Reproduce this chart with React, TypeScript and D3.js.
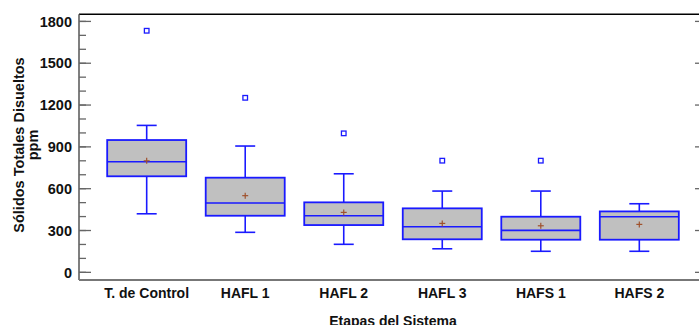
import React from "react";
import * as d3 from "d3";

const categories = ["T. de Control", "HAFL 1", "HAFL 2", "HAFL 3", "HAFS 1", "HAFS 2"];
const lowerWhisker = [420, 287, 201, 169, 151, 151];
const q1 = [689, 406, 339, 237, 234, 234];
const median = [793, 497, 406, 327, 301, 399];
const q3 = [949, 679, 502, 459, 399, 437];
const upperWhisker = [1054, 906, 707, 583, 583, 492];
const means = [800, 550, 430, 351, 334, 344];
const outliers: (number | null)[] = [1733, 1252, 997, 801, 801, null];
const yTicks = [0, 300, 600, 900, 1200, 1500, 1800];
const yMinorTicks = d3.range(0, 1801, 100);

const W = 699;
const H = 325;
const left = 79;
const right = 707;
const top = 14.3;
const bottom = 280;
const FONT = "'Liberation Sans', Arial, sans-serif";

export default function App() {
  const y = d3.scaleLinear().domain([-55, 1851]).range([bottom, top]);
  const x = d3.scalePoint<string>().domain(categories).range([left, right]).padding(0.687);
  const boxW = 79;
  const capW = 20;
  const blue = "#1a1aff";

  return (
    <svg width={W} height={H} style={{ position: "absolute", left: 0, top: 0 }}>
      <rect x={0} y={0} width={W} height={H} fill="#fff" />
      {/* frame */}
      <line x1={left} x2={right} y1={top} y2={top} stroke="#000" strokeWidth={1.5} />
      <line x1={left} x2={left} y1={top} y2={bottom} stroke="#555" strokeWidth={1.5} />
      <line x1={right} x2={right} y1={top} y2={bottom} stroke="#555" strokeWidth={1.5} />
      <line x1={left} x2={right} y1={bottom} y2={bottom} stroke="#777" strokeWidth={2} />
      {/* minor ticks */}
      {yMinorTicks.map((t) => (
        <line key={"m" + t} x1={left} x2={left + 7} y1={y(t)} y2={y(t)} stroke="#666" strokeWidth={1.3} />
      ))}
      {yTicks.map((t) => (
        <g key={"t" + t}>
          <line x1={left} x2={left + 12} y1={y(t)} y2={y(t)} stroke="#666" strokeWidth={1.3} />
          <line x1={right - 12} x2={right} y1={y(t)} y2={y(t)} stroke="#666" strokeWidth={1.3} />
          <text x={72} y={y(t)} dy="0.36em" textAnchor="end" fontFamily={FONT} fontWeight="bold" fontSize={14.5} fill="#111">
            {t}
          </text>
        </g>
      ))}
      {/* boxes */}
      {categories.map((c, i) => {
        const cx = x(c)!;
        return (
          <g key={c}>
            <line x1={cx} x2={cx} y1={y(upperWhisker[i])} y2={y(q3[i])} stroke={blue} strokeWidth={1.6} />
            <line x1={cx} x2={cx} y1={y(q1[i])} y2={y(lowerWhisker[i])} stroke={blue} strokeWidth={1.6} />
            <line x1={cx - capW / 2} x2={cx + capW / 2} y1={y(upperWhisker[i])} y2={y(upperWhisker[i])} stroke={blue} strokeWidth={1.6} />
            <line x1={cx - capW / 2} x2={cx + capW / 2} y1={y(lowerWhisker[i])} y2={y(lowerWhisker[i])} stroke={blue} strokeWidth={1.6} />
            <rect x={cx - boxW / 2} y={y(q3[i])} width={boxW} height={y(q1[i]) - y(q3[i])} fill="#c0c0c0" stroke={blue} strokeWidth={1.8} />
            <line x1={cx - boxW / 2} x2={cx + boxW / 2} y1={y(median[i])} y2={y(median[i])} stroke={blue} strokeWidth={1.6} />
            <g stroke="#a0522d" strokeWidth={1.2}>
              <line x1={cx - 3} x2={cx + 3} y1={y(means[i])} y2={y(means[i])} />
              <line x1={cx} x2={cx} y1={y(means[i]) - 3} y2={y(means[i]) + 3} />
            </g>
            {outliers[i] !== null && (
              <rect x={cx - 2.3} y={y(outliers[i] as number) - 2.3} width={4.6} height={4.6} fill="#fff" stroke={blue} strokeWidth={1.3} />
            )}
            <text x={cx} y={298} textAnchor="middle" fontFamily={FONT} fontWeight="bold" fontSize={14} fill="#111">
              {c}
            </text>
          </g>
        );
      })}
      {/* axis titles */}
      <text x={(left + right) / 2} y={326} textAnchor="middle" fontFamily={FONT} fontWeight="bold" fontSize={14} fill="#111">
        Etapas del Sistema
      </text>
      <g transform="translate(0, 145)">
        <text transform="translate(24,0) rotate(-90)" textAnchor="middle" fontFamily={FONT} fontWeight="bold" fontSize={14.5} fill="#111">
          Sólidos Totales Disueltos
        </text>
        <text transform="translate(38,0) rotate(-90)" textAnchor="middle" fontFamily={FONT} fontWeight="bold" fontSize={14.5} fill="#111">
          ppm
        </text>
      </g>
    </svg>
  );
}
